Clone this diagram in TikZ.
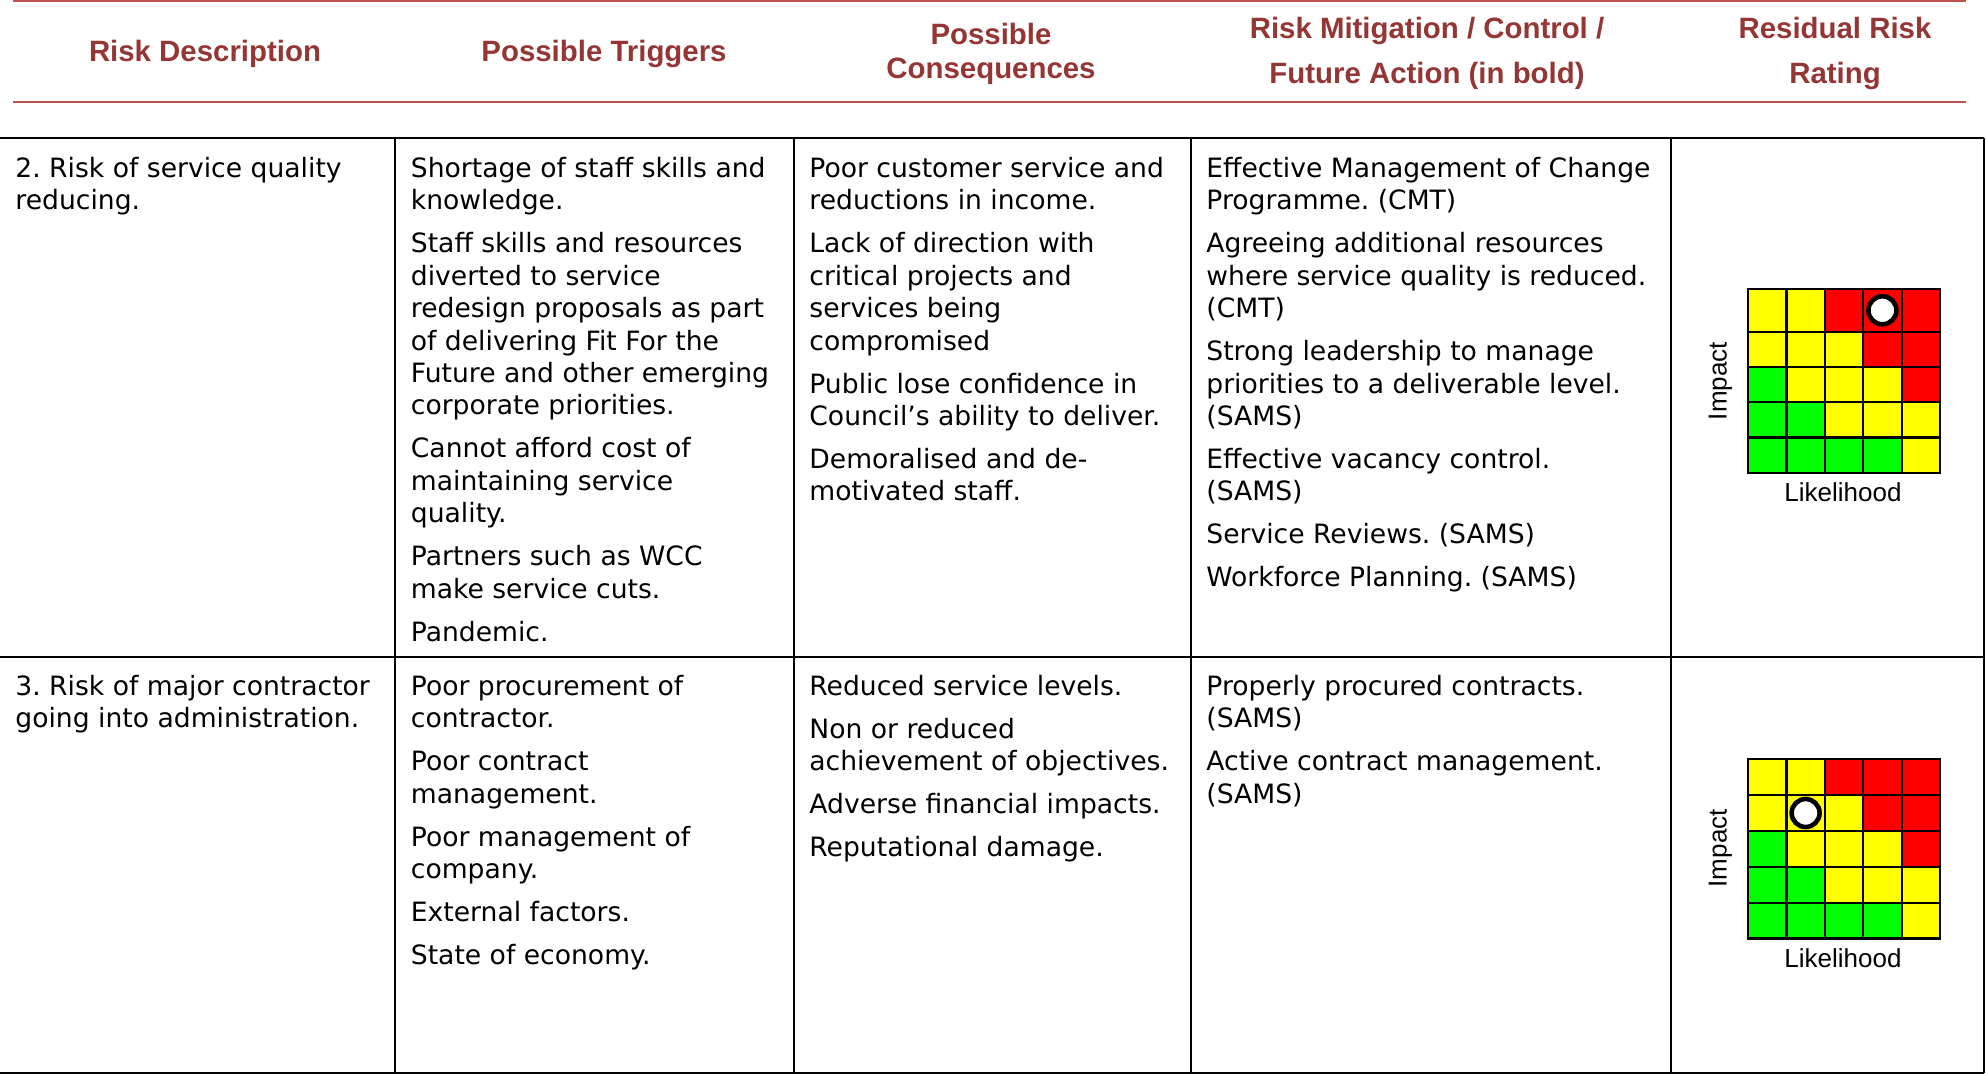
\documentclass[tikz,border=0pt]{standalone}
\usepackage{fontspec}
\newfontfamily\bodyfont{DejaVu Sans}
\newfontfamily\headfont{Liberation Sans}
\frenchspacing
\definecolor{headred}{RGB}{148,54,52}
\definecolor{rulered}{RGB}{192,80,77}
\definecolor{cellG}{RGB}{0,255,0}
\definecolor{cellY}{RGB}{255,255,0}
\definecolor{cellR}{RGB}{255,0,0}
\def\riskgrid(#1,#2)[#3][#4]{\foreach \r/\row in {0/{Y,Y,R,R,R},1/{Y,Y,Y,R,R},2/{G,Y,Y,Y,R},3/{G,G,Y,Y,Y},4/{G,G,G,G,Y}}{\pgfmathsetmacro\ytop{#2+(\r>0)*(#3+(\r-1)*#4)}\pgfmathsetmacro\ybot{#2+#3+\r*#4}\foreach \c [count=\i from 0] in \row {\draw[gridcell, fill=cell\c] ({#1+\i*38.4},\ytop) rectangle ({#1+(\i+1)*38.4},\ybot);}}}

\begin{document}
\begin{tikzpicture}[x=0.5pt, y=-0.5pt,
	headtext/.style={inner sep=0, text=headred, align=center, font=\headfont\bfseries\fontsize{14.7}{17}\selectfont},
	celltext/.style={inner sep=0, anchor=north west, align=left, font=\bodyfont\frenchspacing\fontsize{13.3}{16.2}\selectfont},
	axislabel/.style={inner sep=0, font=\headfont\fontsize{13}{15}\selectfont},
	gridcell/.style={draw=black, line width=1.1pt},
	ratemark/.style={draw=black, fill=white, line width=2.3pt}]
			%%%%% START %%%%%
			
			\useasboundingbox (0,0) rectangle (1986,1075);
			
			% header
			\draw[rulered, line width=1.25pt] (13,1.2) -- (1966,1.2);
			\draw[rulered, line width=1.25pt] (13,102) -- (1966,102);
			\node[headtext, anchor=base] (hdesc) at (205,61.7) {Risk Description};
			\node[headtext, anchor=base] (htrig) at (604,61.7) {Possible Triggers};
			\node[headtext, anchor=north] (hcons) at (991,20.2) {\strut Possible\\Consequences};
			\node[headtext, anchor=north] (hctrl) at (1427,14.5) {\strut Risk Mitigation / Control /\\[5.3pt]Future Action (in bold)};
			\node[headtext, anchor=north] (hrate) at (1835,14.5) {\strut Residual Risk\\[5.3pt]Rating};
			
			% table rules
			\draw[line width=1pt] (0,138.3) -- (1984,138.3);
			\draw[line width=1pt] (0,657) -- (1984,657);
			\draw[line width=1pt] (0,1073) -- (1984,1073);
			\foreach \x in {395,794,1191,1671,1984}
				\draw[line width=1pt] (\x,138.3) -- (\x,1073);
			
			% row 2
			\node[celltext] (desc2) at (15,154.4) {\strut 2. Risk of service quality\\reducing.};
			\node[celltext] (trig2) at (410.5,154.4) {\strut Shortage of staff skills and\\knowledge.\\[5.3pt]Staff skills and resources\\diverted to service\\redesign proposals as part\\of delivering Fit For the\\Future and other emerging\\corporate priorities.\\[5.3pt]Cannot afford cost of\\maintaining service\\quality.\\[5.3pt]Partners such as WCC\\make service cuts.\\[5.3pt]Pandemic.};
			\node[celltext] (cons2) at (809,154.4) {\strut Poor customer service and\\reductions in income.\\[5.3pt]Lack of direction with\\critical projects and\\services being\\compromised\\[5.3pt]Public lose confidence in\\Council’s ability to deliver.\\[5.3pt]Demoralised and de-\\motivated staff.};
			\node[celltext] (ctrl2) at (1206,154.4) {\strut Effective Management of Change\\Programme. (CMT)\\[5.3pt]Agreeing additional resources\\where service quality is reduced.\\(CMT)\\[5.3pt]Strong leadership to manage\\priorities to a deliverable level.\\(SAMS)\\[5.3pt]Effective vacancy control.\\(SAMS)\\[5.3pt]Service Reviews. (SAMS)\\[5.3pt]Workforce Planning. (SAMS)};
			\riskgrid(1748,289)[42.7][35.25]
			\draw[ratemark] (1882.4,310.3) circle (7pt);
			\node[axislabel, rotate=90, anchor=base] (imp2) at (1726.5,381) {Impact};
			\node[axislabel, anchor=base] (lik2) at (1843,501.7) {Likelihood};
			
			% row 3
			\node[celltext] (desc3) at (15,672.4) {\strut 3. Risk of major contractor\\going into administration.};
			\node[celltext] (trig3) at (410.5,672.4) {\strut Poor procurement of\\contractor.\\[5.3pt]Poor contract\\management.\\[5.3pt]Poor management of\\company.\\[5.3pt]External factors.\\[5.3pt]State of economy.};
			\node[celltext] (cons3) at (809,672.4) {\strut Reduced service levels.\\[5.3pt]Non or reduced\\achievement of objectives.\\[5.3pt]Adverse financial impacts.\\[5.3pt]Reputational damage.};
			\node[celltext] (ctrl3) at (1206,672.4) {\strut Properly procured contracts.\\(SAMS)\\[5.3pt]Active contract management.\\(SAMS)};
			\riskgrid(1748,759)[35.9][35.9]
			\draw[ratemark] (1805.6,813) circle (7pt);
			\node[axislabel, rotate=90, anchor=base] (imp3) at (1726.5,848.3) {Impact};
			\node[axislabel, anchor=base] (lik3) at (1843,967.3) {Likelihood};
			
			%%%%% END %%%%%
\end{tikzpicture}
\end{document}
